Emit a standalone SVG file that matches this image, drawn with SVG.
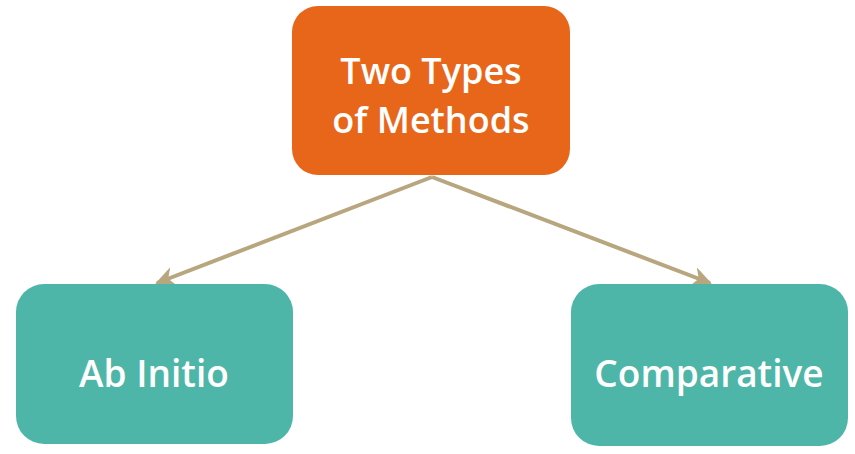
<svg xmlns="http://www.w3.org/2000/svg" width="855" height="454" viewBox="0 0 855 454">
<defs>
<style>
.top{fill:#E8661A;}
.leaf{fill:#4DB6A8;}
.lbl{font-family:"Open Sans","Liberation Sans",sans-serif;font-size:37px;font-weight:600;fill:#FFFFFF;text-anchor:middle;}
.lbl2{font-size:36px;}
.conn{stroke:#B7A67E;stroke-width:4;fill:none;marker-end:url(#ah);}
</style>
<marker id="ah" viewBox="0 0 10 10" refX="9" refY="5" markerWidth="5" markerHeight="5" orient="auto" markerUnits="strokeWidth">
<path d="M0,0 L10,5 L0,10 L3,5 Z" fill="#B7A67E"/>
</marker>
</defs>
<rect width="855" height="454" fill="#FFFFFF"/>
<g id="connectors">
<line class="conn" x1="432" y1="177" x2="157" y2="283"/>
<line class="conn" x1="432" y1="177" x2="710" y2="283"/>
</g>
<g id="node-top">
<rect class="top" x="292" y="6" width="278" height="169" rx="26"/>
<text class="lbl lbl2" x="431" y="84">Two Types</text>
<text class="lbl lbl2" x="431" y="133">of Methods</text>
</g>
<g id="node-abinitio">
<rect class="leaf" x="16" y="284" width="277" height="160" rx="28"/>
<text class="lbl" x="154" y="387">Ab Initio</text>
</g>
<g id="node-comparative">
<rect class="leaf" x="571" y="284" width="277" height="162" rx="28"/>
<text class="lbl" x="709" y="387">Comparative</text>
</g>
</svg>
